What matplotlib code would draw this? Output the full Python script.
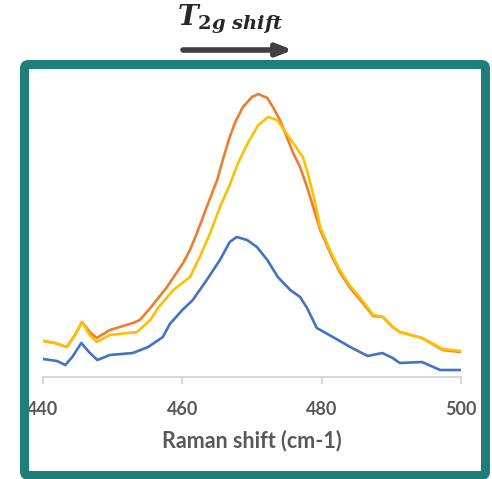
import matplotlib
matplotlib.use("Agg")
import matplotlib.pyplot as plt
from matplotlib.patches import FancyBboxPatch

# Raman spectra (intensity in a.u.)
blue_x = [440.0, 442.0, 443.2, 444.2, 445.5, 446.6, 447.8, 449.6, 452.9, 455.1,
          457.2, 458.2, 460.0, 461.5, 463.5, 465.4, 466.8, 467.8, 469.3, 470.7,
          472.2, 473.7, 475.5, 476.9, 477.9, 479.3, 481.6, 484.1, 486.6, 488.7,
          490.2, 491.2, 494.4, 497.0, 500.0]
blue_y = [18, 16, 12, 20, 34, 25, 17, 22, 24, 30,
          40, 53, 67, 77, 97, 117, 135, 140, 137, 130,
          117, 100, 87, 80, 69, 49, 40, 30, 21, 24,
          19, 14, 15, 7, 7]

orange_x = [440.0, 441.7, 443.4, 444.6, 445.6, 446.7, 447.7, 449.6, 452.9, 453.9,
            455.4, 457.8, 460.1, 461.1, 462.1, 463.5, 465.0, 465.8, 466.8, 467.6,
            468.7, 470.0, 470.9, 472.2, 473.0, 474.0, 475.0, 475.9, 476.9, 477.9,
            479.8, 481.5, 482.6, 484.1, 485.9, 487.4, 488.8, 490.2, 491.2, 494.4,
            497.4, 500.0]
orange_y = [36, 34, 30, 42, 55, 45, 39, 47, 54, 57,
            69, 90, 114, 127, 144, 170, 197, 217, 240, 255,
            270, 280, 283, 279, 270, 257, 240, 224, 210, 190,
            147, 120, 105, 89, 74, 61, 60, 50, 45, 39,
            27, 25]

yellow_x = [440.0, 441.7, 443.4, 444.6, 445.6, 446.7, 447.7, 449.6, 453.5, 455.4,
            456.5, 458.7, 461.1, 462.5, 464.0, 465.4, 466.8, 468.0, 469.4, 470.9,
            472.3, 473.6, 474.4, 475.9, 477.3, 478.0, 478.8, 479.8, 481.5, 482.6,
            484.1, 485.9, 487.4, 488.8, 490.2, 491.2, 494.4, 497.4, 500.0]
yellow_y = [36, 34, 30, 42, 55, 42, 35, 42, 45, 57,
            69, 87, 100, 120, 144, 170, 192, 214, 234, 252,
            260, 257, 249, 234, 220, 204, 182, 150, 122, 107,
            91, 76, 62, 60, 50, 45, 39, 28, 26]

x_ticks = [440, 460, 480, 500]

plt.rcParams['mathtext.fontset'] = 'custom'
plt.rcParams['mathtext.it'] = 'DejaVu Serif:italic:bold'
plt.rcParams['mathtext.rm'] = 'DejaVu Serif:bold'
plt.rcParams['mathtext.bf'] = 'DejaVu Serif:bold'

W, H = 492, 479
fig = plt.figure(figsize=(W / 100, H / 100), dpi=100)
ax = fig.add_axes([43 / W, 1 - 377 / H, (461 - 43) / W, (377 - 75) / H])

for xs, ys, c in [(blue_x, blue_y, '#4472C4'),
                  (orange_x, orange_y, '#ED7D31'),
                  (yellow_x, yellow_y, '#FFC000')]:
    ax.plot(xs, ys, color=c, lw=1.9, solid_capstyle='round', solid_joinstyle='round')

ax.set_xlim(440, 500)
ax.set_ylim(0, 302)
ax.set_xticks(x_ticks)
ax.set_yticks([])
for s in ['top', 'right', 'left']:
    ax.spines[s].set_visible(False)
ax.spines['bottom'].set_color('#D0D0D0')
ax.spines['bottom'].set_linewidth(1.2)
ax.tick_params(axis='x', direction='out', length=5, width=1.2, color='#D0D0D0',
               pad=12, labelsize=13, labelcolor='#595959')
for lab in ax.get_xticklabels():
    lab.set_fontfamily('Lato')
    lab.set_fontweight('bold')
ax.set_xlabel('Raman shift (cm-1)', fontsize=15.5, color='#595959', family='Lato',
              fontweight='bold', labelpad=9)

# teal frame round the plot
frame = FancyBboxPatch((24.5 / W, 3.5 / H), (485.5 - 24.5) / W, (476 - 65) / H,
                       boxstyle='round,pad=0,rounding_size=0.008',
                       transform=fig.transFigure, fill=False,
                       edgecolor='#1F7F78', lw=6.5, zorder=10)
fig.add_artist(frame)

# arrow and label above
ax.annotate('', xy=(293, H - 50), xytext=(183, H - 50),
            xycoords='figure pixels', textcoords='figure pixels',
            arrowprops=dict(arrowstyle='-|>,head_width=0.35,head_length=0.9',
                            lw=4, color='#404040', shrinkA=0, shrinkB=0))
fig.text(177 / W, 1 - 26 / H, r'$T_{2g\ shift}$', fontsize=20, color='#262626',
         va='baseline', ha='left')

fig.savefig('out.png', dpi=100)
